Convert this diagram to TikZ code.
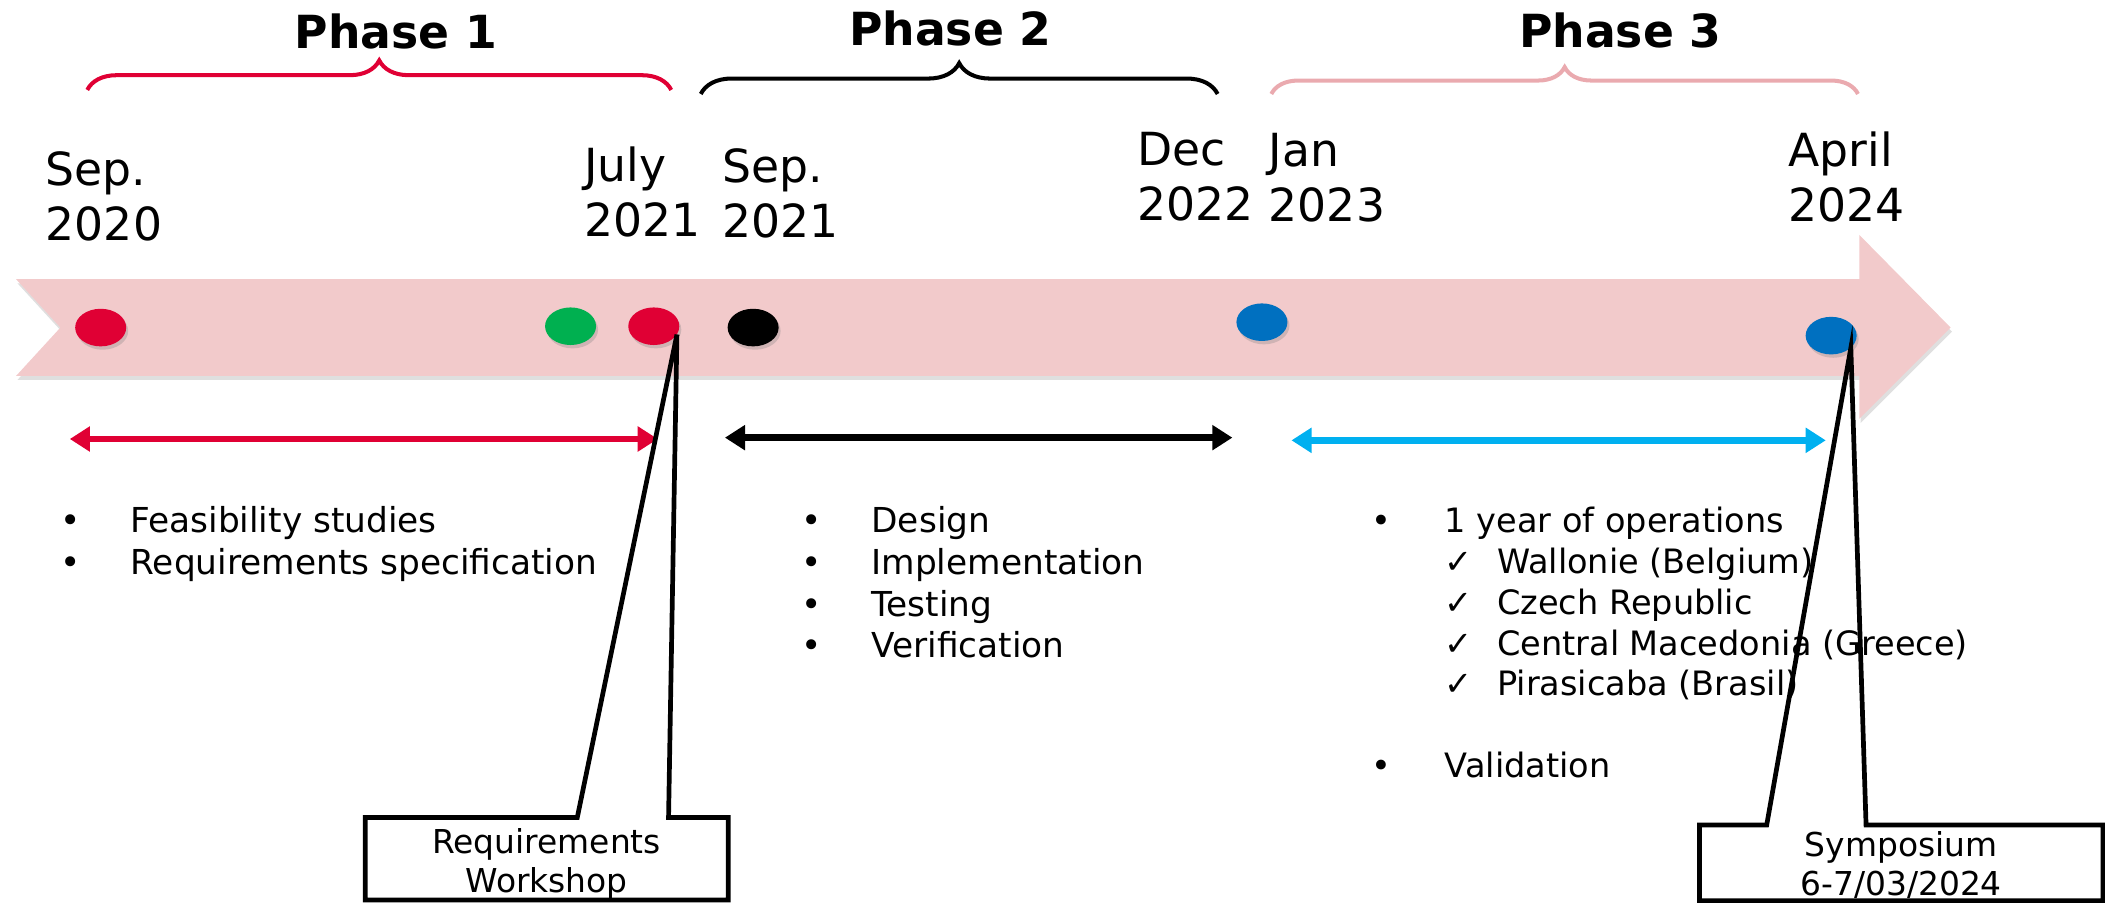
\documentclass[tikz,border=0pt]{standalone}
\usepackage{fontspec}
\setmainfont{DejaVu Sans}
\usepackage{tikz}
\usetikzlibrary{shapes.geometric, arrows.meta, positioning, decorations.pathreplacing, shadows}

\definecolor{phasered}{RGB}{224,0,52}
\definecolor{phasegreen}{RGB}{0,176,80}
\definecolor{phaseblue}{RGB}{0,112,192}
\definecolor{phasecyan}{RGB}{0,176,240}
\definecolor{bandpink}{RGB}{242,202,203}
\definecolor{bracepink}{RGB}{234,170,175}

\tikzset{
    phasetitle/.style={font=\fontsize{34}{41}\selectfont\bfseries, inner sep=0pt, anchor=north},
    datelabel/.style={font=\fontsize{34}{41}\selectfont, align=left, inner sep=0pt, anchor=north west},
    milestone/.style={ellipse, minimum width=38pt, minimum height=28pt, inner sep=0pt, drop shadow={shadow xshift=1.5pt, shadow yshift=-2.5pt, opacity=0.3}},
    phasebrace/.style={decorate, decoration={brace, amplitude=#1}, line width=3pt},
    phasebrace/.default=20pt,
    phasespan/.style={{Triangle[length=15pt,width=18pt]}-{Triangle[length=15pt,width=18pt]}, line width=5pt},
    tasklist/.style={font=\fontsize{25.6}{31}\selectfont, inner sep=0pt, anchor=base west},
    calloutbox/.style={fill=white, minimum width=#1, minimum height=56pt, inner sep=0pt, anchor=north west},
    callouttext/.style={font=\fontsize{24.5}{29}\selectfont, align=center, inner sep=0pt},
    calloutline/.style={line width=3.5pt, line join=miter}
}

\begin{document}
\begin{tikzpicture}[x=1pt, y=-1pt]
    \useasboundingbox (0,0) rectangle (1568,672);

    % timeline band
    \fill[bandpink, drop shadow={shadow xshift=1pt, shadow yshift=-3pt, opacity=0.25}]
        (12,208) -- (1385,208) -- (1385,175) -- (1453,244) -- (1385,312)
        -- (1385,280) -- (12,280) -- (45,244) -- cycle;

    % phase titles and braces
    \node (phase1) [phasetitle] at (295,10) {Phase 1};
    \node (phase2) [phasetitle] at (708,7.5) {Phase 2};
    \node (phase3) [phasetitle] at (1207,9) {Phase 3};

    \coordinate (brace1l) at (65,67);   \coordinate (brace1r) at (500,67);
    \coordinate (brace2l) at (522,70);  \coordinate (brace2r) at (907,70);
    \coordinate (brace3l) at (947,70);  \coordinate (brace3r) at (1384,70);
    \draw[phasebrace=22pt, phasered] (brace1l) -- (brace1r);
    \draw[phasebrace=23pt, black] (brace2l) -- (brace2r);
    \draw[phasebrace=20pt, bracepink] (brace3l) -- (brace3r);

    % dates
    \node (dsep20) [datelabel] at (34,113) {Sep.\\2020};
    \node (djul21) [datelabel] at (435,109) {July\\2021};
    \node (dsep21) [datelabel] at (538,110.5) {Sep.\\2021};
    \node (ddec22) [datelabel] at (847,98) {Dec\\2022};
    \node (djan23) [datelabel] at (945,99) {Jan\\2023};
    \node (dapr24) [datelabel] at (1332,98) {April\\2024};

    % milestones
    \node (sep20) [milestone, fill=phasered] at (75,244) {};
    \node (jun21) [milestone, fill=phasegreen] at (425,243) {};
    \node (jul21) [milestone, fill=phasered] at (487,243) {};
    \node (sep21) [milestone, fill=black] at (561,244) {};
    \node (jan23) [milestone, fill=phaseblue] at (940,240) {};
    \node (apr24) [milestone, fill=phaseblue] at (1364,250) {};

    % phase durations
    \coordinate (span1l) at (52,327);  \coordinate (span1r) at (490,327);
    \coordinate (span2l) at (540,326); \coordinate (span2r) at (918,326);
    \coordinate (span3l) at (962,328); \coordinate (span3r) at (1360,328);
    \draw[phasespan, phasered] (span1l) -- (span1r);
    \draw[phasespan, black] (span2l) -- (span2r);
    \draw[phasespan, phasecyan] (span3l) -- (span3r);

    % activities
    \node (tasks1) [tasklist] at (44.5,397) {\begin{tabular}[t]{@{}p{52.5pt}@{}l@{}}
        •&Feasibility studies\\
        •&Requirements specification
    \end{tabular}};
    \node (tasks2) [tasklist] at (596.5,397) {\begin{tabular}[t]{@{}p{52.5pt}@{}l@{}}
        •&Design\\
        •&Implementation\\
        •&Testing\\
        •&Verification
    \end{tabular}};
    \node (tasks3) [tasklist, font=\fontsize{25}{30.3}\selectfont] at (1021.7,397) {\begin{tabular}[t]{@{}p{54.3pt}@{}l@{}}
        •&1 year of operations\\
        &\makebox[39pt][l]{✓}Wallonie (Belgium)\\
        &\makebox[39pt][l]{✓}Czech Republic\\
        &\makebox[39pt][l]{✓}Central Macedonia (Greece)\\
        &\makebox[39pt][l]{✓}Pirasicaba (Brasil)\\
        &\\
        •&Validation
    \end{tabular}};

    % callouts
    \node (wsbox) [calloutbox=270pt, minimum height=61pt] at (272,609) {};
    \node (wstext) [callouttext, below=8pt of wsbox.north] {Requirements\\Workshop};
    \coordinate (wsfootl) at (430,609);
    \coordinate (wsfootr) at (498,609);
    \draw[calloutline] (wsbox.north west) -- (wsfootl) -- (jul21.-20) -- (wsfootr)
        -- (wsbox.north east) -- (wsbox.south east) -- (wsbox.south west) -- cycle;

    \node (sybox) [calloutbox=300pt] at (1266,614.5) {};
    \node (sytext) [callouttext, below=5pt of sybox.north] {Symposium\\6-7/03/2024};
    \coordinate (syfootl) at (1316,614.5);
    \coordinate (syfootr) at (1390,614.5);
    \draw[calloutline] (sybox.north west) -- (syfootl) -- (apr24.-32) -- (syfootr)
        -- (sybox.north east) -- (sybox.south east) -- (sybox.south west) -- cycle;
\end{tikzpicture}
\end{document}
